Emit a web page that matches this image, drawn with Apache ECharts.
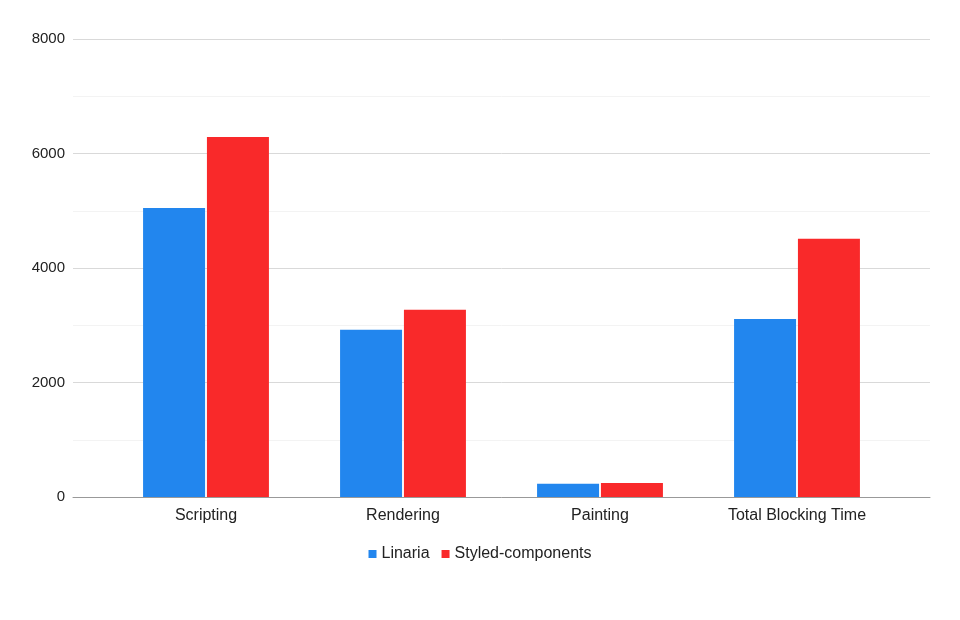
<!DOCTYPE html>
<html>
<head>
<meta charset="utf-8">
<script src="https://cdn.jsdelivr.net/npm/echarts@6/dist/echarts.min.js"></script>
<style>
  html, body { margin: 0; padding: 0; background: #fff; }
  #chart { width: 960px; height: 620px; }
</style>
</head>
<body>
<div id="chart"></div>
<script>
var categories = ['Scripting', 'Rendering', 'Painting', 'Total Blocking Time']
var linaria = [5050, 2920, 230, 3110]
var styledComponents = [6290, 3270, 245, 4510]
var yTicks = [0, 2000, 4000, 6000, 8000]

var chart = echarts.init(document.getElementById('chart'))
var font = 'Liberation Sans, Arial, sans-serif'

var option = {
  backgroundColor: '#ffffff',
  textStyle: { fontFamily: font },
  legend: {
    top: 541,
    left: 'center',
    icon: 'rect',
    itemWidth: 8,
    itemHeight: 8,
    itemGap: 12,
    textStyle: { fontSize: 16, color: '#222', fontFamily: font },
    data: ['Linaria', 'Styled-components']
  },
  grid: [
    // background grid: gridlines and baseline across the whole width
    { left: 73, right: 30, top: 39, bottom: 123 },
    // bars
    { left: 107.5, right: 64.5, top: 39, bottom: 123 }
  ],
  xAxis: [
    {
      type: 'value',
      gridIndex: 0,
      min: 0,
      max: 1,
      axisLine: { show: true, onZero: false, lineStyle: { color: '#999', width: 1 } },
      axisTick: { show: false },
      axisLabel: { show: false },
      splitLine: { show: false }
    },
    {
      type: 'category',
      gridIndex: 1,
      data: categories,
      axisLine: { show: false },
      axisTick: { show: false },
      axisLabel: { color: '#222', fontSize: 16, margin: 11, fontFamily: font }
    }
  ],
  yAxis: [
    {
      type: 'value',
      gridIndex: 0,
      min: 0,
      max: 8000,
      interval: 1000,
      axisLine: { show: false },
      axisTick: { show: false },
      axisLabel: {
        color: '#222',
        fontSize: 15,
        margin: 8,
        fontFamily: font,
        formatter: function(v) {
          return yTicks.indexOf(v) >= 0 ? String(v) : ''
        }
      },
      splitLine: { lineStyle: { color: ['#d9d9d9', '#f3f3f3'], width: 1 } }
    },
    {
      type: 'value',
      gridIndex: 1,
      min: 0,
      max: 8000,
      show: false,
      splitLine: { show: false }
    }
  ],
  series: [
    {
      name: 'Linaria',
      type: 'bar',
      xAxisIndex: 1,
      yAxisIndex: 1,
      barWidth: 62,
      barGap: '3%',
      itemStyle: { color: '#2286ee' },
      data: linaria
    },
    {
      name: 'Styled-components',
      type: 'bar',
      xAxisIndex: 1,
      yAxisIndex: 1,
      barWidth: 62,
      barGap: '3%',
      itemStyle: { color: '#f9292a' },
      data: styledComponents
    }
  ]
}

chart.setOption(option)
</script>
</body>
</html>
